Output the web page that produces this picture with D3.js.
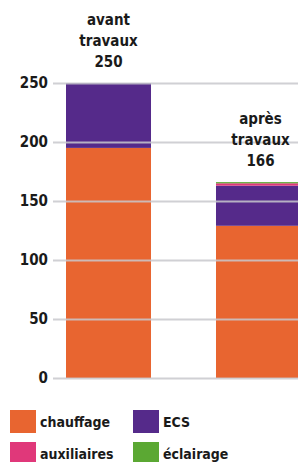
<!DOCTYPE html>
<html>
<head>
<meta charset="utf-8">
<script src="https://cdn.jsdelivr.net/npm/d3@7"></script>
<style>
  html, body { margin: 0; padding: 0; background: #fff; }
  svg { display: block; }
  text { font-family: "DejaVu Sans Condensed", "Liberation Sans Narrow", sans-serif; font-weight: bold; fill: #1a1a1a; }
</style>
</head>
<body>
<svg id="chart"></svg>
<script>
// données
const categories = ['avant travaux', 'après travaux'];
const totalLabels = ['250', '166'];
const seriesNames = ['chauffage', 'ECS', 'auxiliaires', 'éclairage'];
const chauffage = [195, 129];
const ecs = [55, 34];
const auxiliaires = [0, 2];
const eclairage = [0, 1];
const yTicks = [0, 50, 100, 150, 200, 250];
const colors = ['#e86530', '#552a8a', '#e0387a', '#5ba833'];

const width = 298;
const height = 462;
const svg = d3.select('#chart').attr('width', width).attr('height', height);

const rows = categories.map((c, i) => ({
  cat: c, label: totalLabels[i],
  chauffage: chauffage[i], ECS: ecs[i], auxiliaires: auxiliaires[i], 'éclairage': eclairage[i]
}));

const x = d3.scaleBand()
  .domain(categories)
  .range([21, 346])
  .paddingInner(0.4333)
  .paddingOuter(0.3);

const y = d3.scaleLinear()
  .domain([0, 250])
  .range([378, 83]);

const stack = d3.stack().keys(seriesNames)(rows);

// barres
svg.append('g').selectAll('g')
  .data(stack)
  .join('g')
  .attr('fill', (d, i) => colors[i])
  .selectAll('rect')
  .data(d => d)
  .join('rect')
  .attr('x', d => x(d.data.cat))
  .attr('y', d => y(d[1]))
  .attr('width', x.bandwidth())
  .attr('height', d => y(d[0]) - y(d[1]));

// grille + axe
const yAxis = d3.axisLeft(y).tickValues(yTicks).tickSize(0).tickPadding(5);
const ga = svg.append('g')
  .attr('transform', 'translate(53,0)')
  .call(yAxis);
ga.select('.domain').remove();
ga.selectAll('.tick line')
  .attr('x2', width)
  .attr('stroke', '#c8c8cc')
  .attr('stroke-opacity', 0.85)
  .attr('stroke-width', 2);
ga.selectAll('.tick text')
  .attr('font-size', 15)
  .attr('fill', '#1a1a1a')
  .style('font-family', '"DejaVu Sans Condensed", sans-serif')
  .style('font-weight', 'bold');

// étiquettes au-dessus des barres
const lbl = svg.append('g').selectAll('text')
  .data(rows)
  .join('text')
  .attr('text-anchor', 'middle')
  .attr('font-size', 15)
  .attr('x', d => x(d.cat) + x.bandwidth() / 2 - (d.cat === categories[1] ? -2 : 0))
  .attr('y', d => y(d.chauffage + d.ECS + d.auxiliaires + d['éclairage']) - 58);
lbl.each(function(d) {
  const words = d.cat.split(' ').concat([d.label]);
  const t = d3.select(this);
  words.forEach((w, i) => {
    t.append('tspan')
      .attr('x', t.attr('x'))
      .attr('dy', i === 0 ? 0 : 21)
      .text(w);
  });
});

// légende
const legend = svg.append('g').selectAll('g')
  .data(seriesNames)
  .join('g')
  .attr('transform', (d, i) => `translate(${10 + (i % 2) * 123},${410 + Math.floor(i / 2) * 32})`);
legend.append('rect')
  .attr('width', 26)
  .attr('height', 23)
  .attr('fill', (d, i) => colors[i]);
legend.append('text')
  .attr('x', 30)
  .attr('y', 12)
  .attr('dy', '0.35em')
  .attr('font-size', 14)
  .text(d => d);
</script>
</body>
</html>
